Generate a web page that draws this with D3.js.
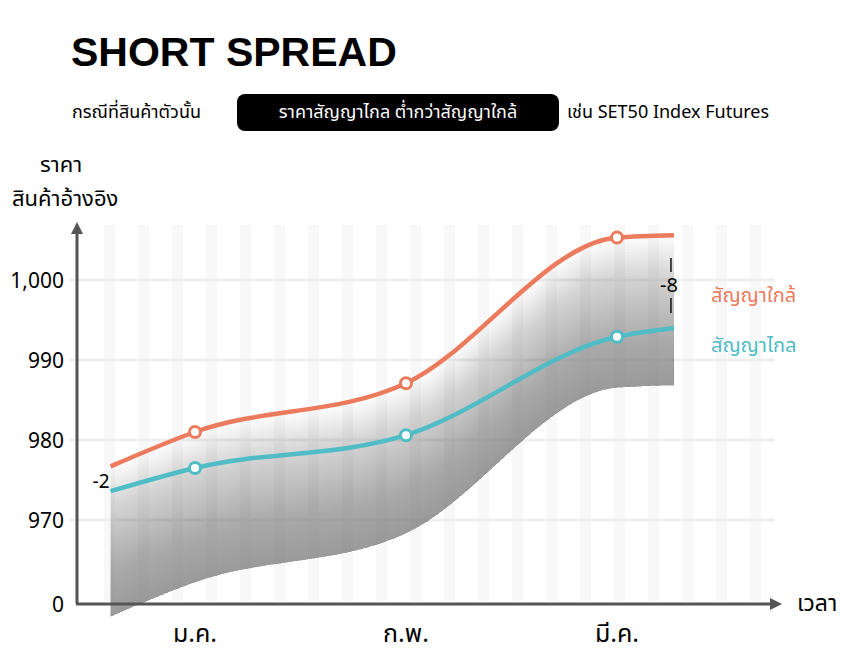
<!DOCTYPE html>
<html><head><meta charset="utf-8">
<script src="https://cdn.jsdelivr.net/npm/d3@7"></script>
<style>
body{margin:0;background:#fff;font-family:"Noto Sans","Noto Sans Thai","Noto Sans CJK SC",sans-serif}
</style></head><body>
<svg id="c" width="845" height="651"></svg>
<script>
// months and x positions (month index)
var months = ["ม.ค.", "ก.พ.", "มี.ค."];
var monthIdx = [1, 2, 3];
var pointsX = [0.6, 1, 2, 3, 3.27];
var nearVals = [976.7, 981, 987.1, 1005.3, 1005.6];
var farVals = [973.6, 976.5, 980.6, 992.9, 994];
var yTicks = [970, 980, 990, 1000];
var spreads = ["-2", "-8"];

var svg = d3.select("#c");
var x = d3.scaleLinear().domain([1, 3]).range([195, 617]);
var y = d3.scaleLinear().domain([970, 1000]).range([520, 280]);

// vertical stripes
var stripes = d3.range(0, 20).map(function(i){ return 104 + i * 34; });
svg.selectAll(".stripe").data(stripes).enter().append("rect")
  .attr("x", function(d){ return d; }).attr("y", 225).attr("width", 11).attr("height", 376)
  .attr("fill", "#f8f8f8");

// horizontal grid
svg.selectAll(".grid").data(yTicks).enter().append("line")
  .attr("x1", 70).attr("x2", 775)
  .attr("y1", function(d){ return y(d); }).attr("y2", function(d){ return y(d); })
  .attr("stroke", "#efefef").attr("stroke-width", 3);

var near = pointsX.map(function(d, i){ return [x(d), y(nearVals[i])]; });
var far = pointsX.map(function(d, i){ return [x(d), y(farVals[i])]; });
var curve = d3.curveMonotoneX;

// fading shadow under the near line: cumulative layers
var layers = 50, step = 3, depth = layers * step;
var g = svg.append("g");
for (var k = 0; k < layers; k++) {
  var a = d3.area().curve(curve)
    .x(function(d){ return d[0]; })
    .y0(function(d){ return d[1] + k * step; })
    .y1(function(d){ return d[1] + depth; });
  g.append("path").datum(near).attr("d", a)
    .attr("fill", "#8a8a8e").attr("fill-opacity", 0.022);
}

var line = d3.line().curve(curve).x(function(d){ return d[0]; }).y(function(d){ return d[1]; });
svg.append("path").datum(near).attr("d", line).attr("fill", "none").attr("stroke", "#ec7a5c").attr("stroke-width", 4.5);
svg.append("path").datum(far).attr("d", line).attr("fill", "none").attr("stroke", "#4fbcc6").attr("stroke-width", 4.5);

function markers(vals, col){
  svg.selectAll(null).data(monthIdx).enter().append("circle")
    .attr("cx", function(d){ return x(d); })
    .attr("cy", function(d){ return y(vals[pointsX.indexOf(d)]); })
    .attr("r", 5.5).attr("fill", "#fff").attr("stroke", col).attr("stroke-width", 3);
}
markers(nearVals, "#ec7a5c");
markers(farVals, "#4fbcc6");

// axes
svg.append("line").attr("x1", 77).attr("x2", 77).attr("y1", 604).attr("y2", 232).attr("stroke", "#555").attr("stroke-width", 3);
svg.append("path").attr("d", "M77,222 L71,234 L83,234 Z").attr("fill", "#555");
svg.append("line").attr("x1", 76).attr("x2", 772).attr("y1", 604).attr("y2", 604).attr("stroke", "#555").attr("stroke-width", 3);
svg.append("path").attr("d", "M782,604 L770,598 L770,610 Z").attr("fill", "#555");

svg.selectAll(".yt").data(yTicks).enter().append("text")
  .attr("x", 64).attr("y", function(d){ return y(d) + 8; }).attr("text-anchor", "end")
  .attr("font-size", 21).text(function(d){ return d3.format(",")(d); });
svg.append("text").attr("x", 64).attr("y", 612).attr("text-anchor", "end").attr("font-size", 21).text("0");

svg.selectAll(".xt").data(months).enter().append("text")
  .attr("x", function(d, i){ return x(monthIdx[i]); }).attr("y", 642).attr("text-anchor", "middle")
  .attr("font-size", 25).text(function(d){ return d; });
svg.append("text").attr("x", 797).attr("y", 611).attr("font-size", 23).text("เวลา");
svg.append("text").attr("x", 40).attr("y", 172).attr("font-size", 22).text("ราคา");
svg.append("text").attr("x", 12).attr("y", 206).attr("font-size", 22).text("สินค้าอ้างอิง");

// spread annotations
svg.append("text").attr("x", near[0][0] - 1).attr("y", 488).attr("text-anchor", "end").attr("font-size", 19).text(spreads[0]);
var ex = x(pointsX[4]) - 3;
svg.append("line").attr("x1", ex).attr("x2", ex).attr("y1", 258).attr("y2", 272).attr("stroke", "#111").attr("stroke-width", 1.5);
svg.append("line").attr("x1", ex).attr("x2", ex).attr("y1", 298).attr("y2", 313).attr("stroke", "#111").attr("stroke-width", 1.5);
svg.append("text").attr("x", ex - 2).attr("y", 292).attr("text-anchor", "middle").attr("font-size", 20).text(spreads[1]);

// legend
svg.append("text").attr("x", 711).attr("y", 302).attr("font-size", 20).attr("fill", "#ec7a5c").text("สัญญาใกล้");
svg.append("text").attr("x", 711).attr("y", 352).attr("font-size", 20).attr("fill", "#4fbcc6").text("สัญญาไกล");

// title
svg.append("text").attr("x", 71).attr("y", 66).attr("font-size", 41).attr("font-weight", "bold")
  .attr("font-family", "'Liberation Sans', Arial, sans-serif").text("SHORT SPREAD");
svg.append("text").attr("x", 72).attr("y", 118).attr("font-size", 18).text("กรณีที่สินค้าตัวนั้น");
svg.append("rect").attr("x", 237).attr("y", 94).attr("width", 322).attr("height", 37).attr("rx", 8).attr("fill", "#000");
svg.append("text").attr("x", 398).attr("y", 118).attr("text-anchor", "middle").attr("font-size", 18).attr("fill", "#fff").text("ราคาสัญญาไกล ต่ำกว่าสัญญาใกล้");
svg.append("text").attr("x", 567).attr("y", 118).attr("font-size", 18).text("เช่น SET50 Index Futures");
</script>
</body></html>
